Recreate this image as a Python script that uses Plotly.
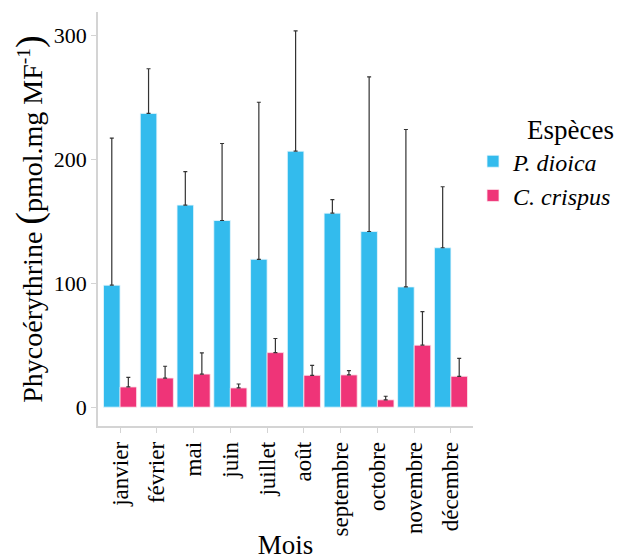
import plotly.graph_objects as go

mois = ["janvier", "février", "mai", "juin", "juillet", "août",
        "septembre", "octobre", "novembre", "décembre"]
p_dioica = [98.4, 237, 163, 150.6, 119.3, 206.5, 156.5, 141.7, 97, 128.6]
p_dioica_up = [217, 273, 190, 212.7, 246, 303.6, 167.4, 266.4, 224, 177.8]
c_crispus = [16.3, 23.5, 26.7, 15.5, 44, 25.7, 26, 5.9, 50, 24.9]
c_crispus_up = [24, 33, 43.8, 18.7, 55.4, 33.7, 29.4, 8.8, 77, 39.3]

FONT = "Liberation Serif, Times New Roman, serif"

def err(vals, ups):
    return [u - v for v, u in zip(vals, ups)]

fig = go.Figure()
fig.add_trace(go.Bar(
    x=mois, y=p_dioica, name="<i>P. dioica</i>",
    marker=dict(color="#33bbed", line=dict(color="#e8f6fd", width=0.8)),
    error_y=dict(type="data", symmetric=False, array=err(p_dioica, p_dioica_up),
                 arrayminus=[0]*len(mois), color="#333333", thickness=1.2, width=2),
))
fig.add_trace(go.Bar(
    x=mois, y=c_crispus, name="<i>C. crispus</i>",
    marker=dict(color="#ef3478", line=dict(color="#fde6ee", width=0.8)),
    error_y=dict(type="data", symmetric=False, array=err(c_crispus, c_crispus_up),
                 arrayminus=[0]*len(mois), color="#333333", thickness=1.2, width=2),
))

fig.update_layout(
    width=617, height=552,
    barmode="group", bargap=0.1, bargroupgap=0,
    plot_bgcolor="white", paper_bgcolor="white",
    margin=dict(l=90, r=152, t=4, b=134),
    font=dict(family=FONT, color="black", size=21),
    legend=dict(
        title=dict(text="Espèces", side="top right", font=dict(family=FONT, size=27)),
        x=1.0, y=0.64, xanchor="left", yanchor="middle",
        font=dict(family=FONT, size=24), tracegroupgap=0, itemwidth=30,
    ),
)
fig.update_xaxes(
    title=dict(text="Mois", font=dict(family=FONT, size=27), standoff=6),
    tickangle=-90, showline=True, linecolor="#d4d4d4", linewidth=1.5,
    ticks="outside", tickcolor="#d4d4d4", ticklen=5, tickwidth=1.2,
    tickfont=dict(family=FONT, size=23), range=[-0.6, 9.6], showgrid=False,
    automargin=False,
)
fig.update_yaxes(
    title=dict(text="Phycoérythrine <span style='font-size:38px'>(</span>pmol.mg MF<sup>-1</sup><span style='font-size:38px'>)</span>",
               font=dict(family=FONT, size=28), standoff=8),
    range=[-15.2, 318.8], tickvals=[0, 100, 200, 300],
    showline=True, linecolor="#d4d4d4", linewidth=1.5,
    ticks="outside", tickcolor="#d4d4d4", ticklen=5, tickwidth=1.2,
    tickfont=dict(family=FONT, size=22), showgrid=False, zeroline=False,
    automargin=False,
)

fig.write_html("out.html")
